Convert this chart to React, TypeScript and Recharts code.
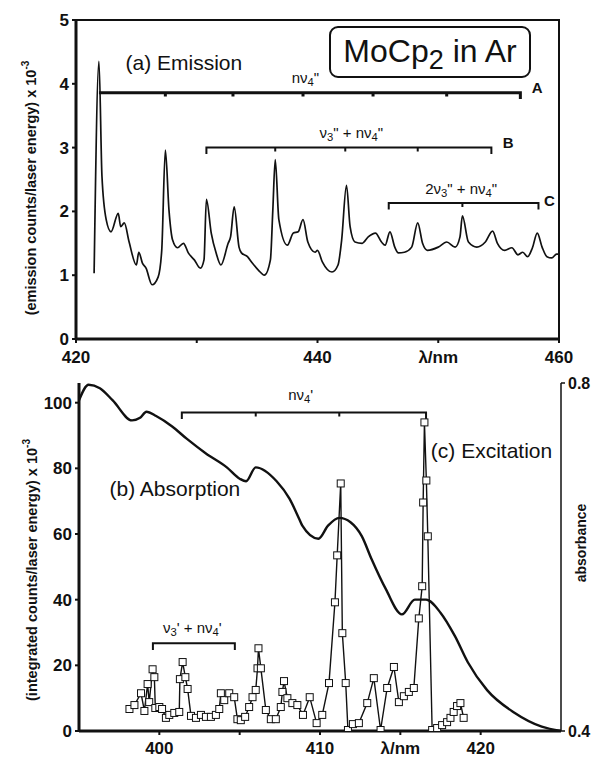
import React from "react";
import {
  ComposedChart,
  Line,
  XAxis,
  YAxis,
  ReferenceArea,
  ReferenceDot,
} from "recharts";

const FONT = '"Liberation Sans", Arial, Helvetica, sans-serif';
const INK = "#111";

// (a) emission spectrum
const emissionNm = [
  421.5, 421.9, 422.15, 422.5, 422.9, 423.5, 423.7, 424.0, 424.4, 425.0, 425.2, 425.5, 425.8, 426.3,
  426.8, 427.1, 427.4, 427.7, 428.0, 428.4, 428.9, 429.3, 429.8, 430.3, 430.6, 430.8, 431.2, 431.6,
  432.0, 432.6, 432.8, 433.1, 433.5, 433.7, 434.2, 434.6, 435.1, 435.6, 436.1, 436.3, 436.5, 436.8,
  437.5, 438.0, 438.4, 438.8, 439.2, 439.8, 440.0, 440.4, 441.2, 441.7, 442.0, 442.4, 442.7, 443.1,
  443.7, 444.2, 444.8, 445.3, 445.6, 446.0, 446.4, 446.7, 447.2, 447.8, 448.3, 448.7, 449.1, 450.0,
  450.7, 451.4, 451.8, 452.0, 452.5, 453.2, 453.9, 454.5, 454.9, 455.5, 456.1, 456.6, 457.0, 457.4,
  457.8, 458.2, 458.6, 459.0, 459.4, 459.8, 460.0,
];
const emissionCounts = [
  1.03, 4.35, 2.55, 1.87, 1.68, 1.97, 1.76, 1.82, 1.52, 1.16, 1.36, 1.19, 1.11, 0.85,
  0.97, 1.39, 2.96, 2.02, 1.55, 1.43, 1.5, 1.35, 1.24, 1.11, 1.24, 2.19, 1.66, 1.35,
  1.16, 1.5, 1.6, 2.07, 1.44, 1.35, 1.29, 1.19, 1.08, 1.0, 1.24, 2.02, 2.81, 1.87,
  1.47, 1.66, 1.68, 1.87, 1.52, 1.36, 1.39, 1.21, 1.05, 1.16, 1.55, 2.41, 1.76, 1.52,
  1.5, 1.6, 1.66, 1.52, 1.47, 1.68, 1.44, 1.35, 1.36, 1.44, 1.82, 1.5, 1.39, 1.44,
  1.52, 1.44, 1.6, 1.93, 1.52, 1.44, 1.52, 1.69, 1.5, 1.39, 1.43, 1.32, 1.36, 1.29,
  1.43, 1.66, 1.44, 1.29, 1.27, 1.33, 1.33,
];

// (c) excitation points (squares)
const excitationNm = [
  398.14, 398.45, 398.86, 399.07, 399.27, 399.37, 399.58, 399.69, 399.75, 400.0, 400.17, 400.41,
  400.62, 400.93, 401.24, 401.28, 401.45, 401.62, 401.76, 401.97, 402.28, 402.59, 402.9, 403.21,
  403.52, 403.73, 403.83, 404.04, 404.35, 404.66, 404.86, 405.07, 405.34, 405.59, 405.8, 406.0,
  406.11, 406.17, 406.32, 406.63, 406.94, 407.25, 407.56, 407.66, 407.76, 407.97, 408.28, 408.59,
  408.94, 409.36, 409.79, 410.14, 410.56, 410.93, 411.07, 411.29, 411.39, 411.6, 411.74, 412.05,
  412.42, 412.94, 413.35, 413.77, 414.18, 414.6, 414.91, 415.22, 415.53, 415.84, 416.15, 416.36,
  416.42, 416.5, 416.62, 416.71, 416.98, 417.29, 417.6, 417.91, 418.12, 418.32, 418.53, 418.74,
  418.94,
];
const excitationCounts = [
  6.7, 7.9, 11.5, 6.1, 14.3, 8.8, 18.8, 16.4, 7.0, 7.3, 6.7, 4.0,
  4.9, 5.5, 5.8, 15.8, 21.0, 16.4, 12.8, 4.6, 4.0, 4.9, 4.3, 4.3,
  4.9, 6.7, 11.5, 9.4, 11.5, 10.3, 3.6, 3.3, 4.3, 7.3, 10.3, 12.5,
  19.1, 25.2, 19.1, 6.4, 3.6, 3.6, 7.3, 11.9, 15.2, 10.0, 8.5, 7.9,
  4.9, 10.3, 2.4, 4.9, 14.6, 39.2, 53.5, 75.4, 29.8, 14.6, 0.3, 2.1,
  2.4, 8.5, 16.1, 0.3, 13.1, 19.5, 8.8, 10.6, 11.9, 13.1, 34.3, 44.1,
  69.6, 94.0, 76.3, 59.3, 0.3, 0.9, 1.8, 2.7, 4.0, 5.8, 7.6, 8.5,
  4.0,
];

// (b) absorption spectrum (right axis)
const absorptionNm = [
  395.0, 395.6, 396.3, 397.1, 398.3, 398.8, 399.2, 399.8, 400.8, 401.7, 402.9, 404.2, 405.0, 405.4,
  406.0, 407.3, 408.1, 408.7, 408.9, 409.9, 410.5, 411.2, 411.9, 412.6, 413.2, 414.1, 415.1, 415.9,
  416.6, 417.5, 418.4, 419.2, 420.4, 422.1, 423.8, 425.0,
];
const absorbance = [
  0.78, 0.798, 0.794, 0.78, 0.757, 0.76, 0.767, 0.762, 0.75, 0.736, 0.719, 0.703, 0.69, 0.687,
  0.703, 0.687, 0.667, 0.644, 0.636, 0.621, 0.636, 0.645, 0.64, 0.624, 0.598, 0.563, 0.534, 0.551,
  0.551, 0.536, 0.509, 0.479, 0.447, 0.421, 0.405, 0.4,
];

// progression brackets: tick wavelengths + level
const bracketA = [421.9, 427.4, 433.0, 438.8, 444.6, 450.7, 456.8];
const bracketB = [430.8, 436.5, 442.3, 448.3, 454.4];
const bracketC = [445.9, 452.0, 458.3];
const levelA = 3.86;
const levelB = 3.0;
const levelC = 2.13;
const bracketNv4 = [401.4, 406.0, 411.2, 416.6];
const bracketNu3 = [399.6, 404.7];
const levelNv4 = 97;
const levelNu3 = 26.7;

const topXTicks = [420, 430, 440, 450, 460];
const topYTicks = [0, 1, 2, 3, 4, 5];
const botXTicks = [400, 405, 410, 415, 420];
const botYTicks = [0, 20, 40, 60, 80, 100];
const absTicks = [0.4, 0.8];

const pairs = (xs: number[], ys: number[]) => xs.map((x, i) => ({ x, y: ys[i] }));

function bracket(ticks: number[], level: number, cap: number, nub: number, capStart = true) {
  const pts: { x: number; y: number }[] = [];
  ticks.forEach((t, i) => {
    if (i === 0) {
      if (capStart) pts.push({ x: t, y: level - cap });
      pts.push({ x: t, y: level });
    } else if (i === ticks.length - 1) {
      pts.push({ x: t, y: level }, { x: t, y: level - cap });
    } else {
      pts.push({ x: t, y: level }, { x: t, y: level - nub }, { x: t, y: level });
    }
  });
  return pts;
}

// text with "_3" style subscripts
function Rich({ text, size }: { text: string; size: number }) {
  const parts = text.split(/_(\d)/);
  const d = size * 0.32;
  return (
    <>
      {parts.map((s, i) =>
        i % 2 ? (
          <tspan key={i} dy={d} fontSize={size * 0.75}>{s}</tspan>
        ) : (
          <tspan key={i} dy={i ? -d : 0}>{s}</tspan>
        )
      )}
    </>
  );
}

const TextLabel = (props: any) => {
  const vb = props.viewBox;
  if (!vb) return null;
  return (
    <text
      x={vb.x + (vb.width || 0) / 2}
      y={vb.y + (vb.height || 0) / 2}
      textAnchor={props.anchor || "middle"}
      dominantBaseline="central"
      fontFamily={FONT}
      fontSize={props.size}
      fontWeight={props.bold ? 700 : 400}
      fill={INK}
    >
      <Rich text={props.text} size={props.size} />
    </text>
  );
};

const Square = (p: any) => (
  <rect key={p.index} x={p.cx - 3.5} y={p.cy - 3.5} width={7} height={7} fill="#fff" stroke={INK} strokeWidth={1} />
);

const tickStyle = { fontSize: 17, fontWeight: 700, fill: INK, fontFamily: FONT };

const topFmt = (v: number) => (v === 430 ? "" : v === 450 ? "λ/nm" : String(v));
const botFmt = (v: number) => (v === 405 ? "" : v === 415 ? "λ/nm" : String(v));

function RotLabel({ cx, cy, size, children }: { cx: number; cy: number; size: number; children: React.ReactNode }) {
  return (
    <div
      style={{
        position: "absolute",
        left: cx - 170,
        top: cy - 11,
        width: 340,
        height: 22,
        lineHeight: "22px",
        textAlign: "center",
        transform: "rotate(-90deg)",
        fontFamily: FONT,
        fontSize: size,
        fontWeight: 700,
        color: INK,
        whiteSpace: "nowrap",
      }}
    >
      {children}
    </div>
  );
}

export default function App() {
  const emission = pairs(emissionNm, emissionCounts);
  const excitation = pairs(excitationNm, excitationCounts);
  const absorption = pairs(absorptionNm, absorbance);

  return (
    <div style={{ position: "absolute", left: 0, top: 0, width: 596, height: 758, background: "#fff" }}>
      {/* (a) emission */}
      <div style={{ position: "absolute", left: 0, top: 0 }}>
        <ComposedChart width={596} height={372} margin={{ top: 20, right: 37, bottom: 6, left: 0 }}>
          <XAxis
            type="number"
            dataKey="x"
            domain={[420, 460]}
            ticks={topXTicks}
            tickFormatter={topFmt}
            allowDataOverflow
            height={27}
            tick={tickStyle}
            tickSize={4}
            tickMargin={8}
            axisLine={{ stroke: INK, strokeWidth: 3 }}
            tickLine={{ stroke: INK, strokeWidth: 2 }}
          />
          <YAxis
            type="number"
            dataKey="y"
            domain={[0, 5]}
            ticks={topYTicks}
            allowDataOverflow
            width={76}
            tick={tickStyle}
            tickSize={4}
            tickMargin={3}
            axisLine={{ stroke: INK, strokeWidth: 3 }}
            tickLine={{ stroke: INK, strokeWidth: 2 }}
          />
          <ReferenceArea x1={420} x2={460} y1={0} y2={5} fill="none" stroke={INK} strokeWidth={2} fillOpacity={0} />
          <Line data={emission} dataKey="y" type="monotone" stroke={INK} strokeWidth={1.7} dot={false} isAnimationActive={false} />
          <Line data={bracket(bracketA, levelA, 0.1, 0.06, false)} dataKey="y" type="linear" stroke={INK} strokeWidth={3} dot={false} isAnimationActive={false} />
          <Line data={bracket(bracketB, levelB, 0.1, 0.06)} dataKey="y" type="linear" stroke={INK} strokeWidth={2} dot={false} isAnimationActive={false} />
          <Line data={bracket(bracketC, levelC, 0.1, 0.06)} dataKey="y" type="linear" stroke={INK} strokeWidth={2} dot={false} isAnimationActive={false} />
          <ReferenceDot x={424.1} y={4.34} r={1} fill="none" stroke="none" label={<TextLabel text="(a) Emission" size={21} anchor="start" />} />
          <ReferenceDot x={439.0} y={4.11} r={1} fill="none" stroke="none" label={<TextLabel text={'nν_4"'} size={15} />} />
          <ReferenceDot x={458.2} y={3.95} r={1} fill="none" stroke="none" label={<TextLabel text="A" size={15} bold />} />
          <ReferenceDot x={442.8} y={3.24} r={1} fill="none" stroke="none" label={<TextLabel text={'ν_3" + nν_4"'} size={15} />} />
          <ReferenceDot x={455.8} y={3.09} r={1} fill="none" stroke="none" label={<TextLabel text="B" size={15} bold />} />
          <ReferenceDot x={451.9} y={2.37} r={1} fill="none" stroke="none" label={<TextLabel text={'2ν_3" + nν_4"'} size={15} />} />
          <ReferenceDot x={459.2} y={2.18} r={1} fill="none" stroke="none" label={<TextLabel text="C" size={15} bold />} />
        </ComposedChart>
      </div>

      <div
        style={{
          position: "absolute",
          left: 329,
          top: 26,
          width: 198,
          height: 48,
          border: `2px solid ${INK}`,
          borderRadius: 9,
          fontFamily: FONT,
          fontSize: 32,
          lineHeight: "46px",
          textAlign: "center",
          color: INK,
          whiteSpace: "nowrap",
        }}
      >
        MoCp<span style={{ fontSize: 27, position: "relative", top: 7 }}>2</span> in Ar
      </div>

      <RotLabel cx={31} cy={188} size={14.5}>
        (emission counts/laser energy) x 10<span style={{ fontSize: 10, position: "relative", top: -7 }}>-3</span>
      </RotLabel>

      {/* (b) absorption + (c) excitation */}
      <div style={{ position: "absolute", left: 0, top: 370 }}>
        <ComposedChart width={596} height={388} margin={{ top: 13, right: 0, bottom: 0, left: 0 }}>
          <XAxis
            type="number"
            dataKey="x"
            domain={[395, 425]}
            ticks={botXTicks}
            tickFormatter={botFmt}
            allowDataOverflow
            height={27}
            tick={tickStyle}
            tickSize={4}
            tickMargin={7}
            axisLine={{ stroke: INK, strokeWidth: 3 }}
            tickLine={{ stroke: INK, strokeWidth: 2 }}
          />
          <YAxis
            yAxisId="L"
            type="number"
            dataKey="y"
            domain={[0, 106]}
            ticks={botYTicks}
            allowDataOverflow
            width={79}
            tick={tickStyle}
            tickSize={4}
            tickMargin={3}
            axisLine={{ stroke: INK, strokeWidth: 3 }}
            tickLine={{ stroke: INK, strokeWidth: 2 }}
          />
          <YAxis
            yAxisId="R"
            orientation="right"
            type="number"
            dataKey="y"
            domain={[0.4, 0.8]}
            ticks={absTicks}
            allowDataOverflow
            width={35}
            tick={{ ...tickStyle, fontSize: 16 }}
            tickSize={4}
            tickMargin={3}
            axisLine={{ stroke: INK, strokeWidth: 1.5 }}
            tickLine={{ stroke: INK, strokeWidth: 1.5 }}
          />
          <Line yAxisId="R" data={absorption} dataKey="y" type="monotone" stroke={INK} strokeWidth={2.4} dot={false} isAnimationActive={false} />
          <Line yAxisId="L" data={excitation} dataKey="y" type="linear" stroke={INK} strokeWidth={1.4} dot={Square} isAnimationActive={false} />
          <Line yAxisId="L" data={bracket(bracketNv4, levelNv4, 2, 1.2)} dataKey="y" type="linear" stroke={INK} strokeWidth={2} dot={false} isAnimationActive={false} />
          <Line yAxisId="L" data={bracket(bracketNu3, levelNu3, 2, 1.2)} dataKey="y" type="linear" stroke={INK} strokeWidth={2} dot={false} isAnimationActive={false} />
          <ReferenceDot yAxisId="L" x={408.8} y={102.7} r={1} fill="none" stroke="none" label={<TextLabel text="nν_4'" size={15} />} />
          <ReferenceDot yAxisId="L" x={402.05} y={31.6} r={1} fill="none" stroke="none" label={<TextLabel text="ν_3' + nν_4'" size={15} />} />
          <ReferenceDot yAxisId="L" x={396.9} y={73.9} r={1} fill="none" stroke="none" label={<TextLabel text="(b) Absorption" size={21} anchor="start" />} />
          <ReferenceDot yAxisId="L" x={416.9} y={85.7} r={1} fill="none" stroke="none" label={<TextLabel text="(c) Excitation" size={21} anchor="start" />} />
        </ComposedChart>
      </div>

      <RotLabel cx={32} cy={570} size={14.5}>
        (integrated counts/laser energy) x 10<span style={{ fontSize: 10, position: "relative", top: -7 }}>-3</span>
      </RotLabel>
      <RotLabel cx={581} cy={543} size={14}>
        absorbance
      </RotLabel>
    </div>
  );
}
